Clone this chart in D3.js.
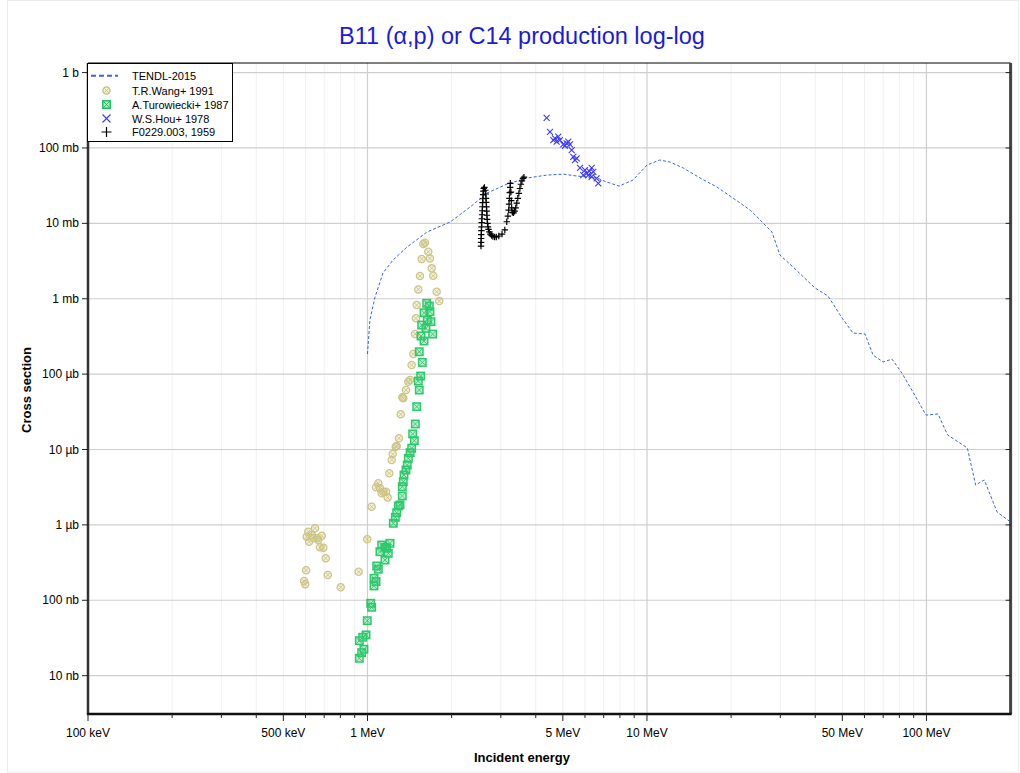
<!DOCTYPE html>
<html><head><meta charset="utf-8">
<script src="https://cdn.jsdelivr.net/npm/d3@7"></script>
<style>body{margin:0;background:#fff;font-family:"Liberation Sans",Arial,sans-serif}</style>
</head><body><svg id="c" width="1020" height="773"></svg>
<script>
// ---- data (energy in MeV, cross section in barns) ----
const tendlE  = [1.0,1.02,1.064,1.136,1.234,1.385,1.633,1.973,2.326,2.677,3.155,3.72,4.39,5.01,5.62,6.62,7.19,7.94,8.91,10.0,11.1,12.1,13.5,15.5,17.8,20.3,23.4,25.4,27.1,28.0,29.9,33.3,39.9,44.4,49.9,54.6,60.3,64.4,69.9,75.3,81.7,89.5,99.6,110,119,140,150,161,179,200];
const tendlXS = [1.85e-4,5.22e-4,1.05e-3,2.19e-3,3.26e-3,4.85e-3,7.67e-3,1.04e-2,1.64e-2,2.52e-2,3.32e-2,3.99e-2,4.37e-2,4.50e-2,4.24e-2,3.99e-2,3.53e-2,3.12e-2,3.75e-2,5.93e-2,6.92e-2,6.50e-2,5.41e-2,3.99e-2,3.03e-2,2.17e-2,1.50e-2,1.11e-2,8.66e-3,7.67e-3,3.80e-3,2.64e-3,1.39e-3,1.09e-3,5.54e-4,3.51e-4,3.40e-4,1.79e-4,1.45e-4,1.58e-4,1.03e-4,5.78e-5,2.86e-5,2.96e-5,1.56e-5,1.05e-5,3.38e-6,3.94e-6,1.48e-6,1.09e-6];

const wangE  = [0.593,0.599,0.603,0.606,0.614,0.618,0.632,0.640,0.649,0.661,0.667,0.676,0.686,0.695,0.709,0.721,0.802,0.930,0.998,1.035,1.073,1.093,1.108,1.124,1.139,1.165,1.181,1.197,1.221,1.231,1.262,1.272,1.296,1.315,1.332,1.343,1.373,1.400,1.420,1.439,1.459,1.479,1.491,1.500,1.520,1.541,1.563,1.584,1.606,1.650,1.673,1.697,1.719,1.768,1.806];
const wangXS = [1.80e-7,1.63e-7,2.50e-7,6.98e-7,8.13e-7,5.99e-7,7.35e-7,6.65e-7,9.01e-7,6.65e-7,6.31e-7,5.05e-7,7.19e-7,4.99e-7,3.61e-7,2.17e-7,1.49e-7,2.39e-7,6.44e-7,1.74e-6,3.15e-6,3.56e-6,3.06e-6,2.62e-6,2.75e-6,2.75e-6,2.30e-6,4.84e-6,7.26e-6,8.72e-6,1.09e-5,1.11e-5,1.41e-5,2.93e-5,4.92e-5,4.77e-5,6.15e-5,7.93e-5,8.35e-5,1.32e-4,1.85e-4,3.40e-4,5.50e-4,8.24e-4,1.33e-3,2.00e-3,3.36e-3,5.31e-3,5.53e-3,4.20e-3,3.43e-3,2.53e-3,2.02e-3,1.24e-3,9.31e-4];

const turoE  = [0.935,0.935,0.953,0.961,0.971,0.988,0.998,1.027,1.035,1.055,1.073,1.055,1.079,1.093,1.124,1.155,1.204,1.108,1.187,1.155,1.171,1.237,1.258,1.272,1.289,1.307,1.332,1.332,1.343,1.351,1.373,1.388,1.400,1.420,1.439,1.471,1.451,1.483,1.500,1.532,1.520,1.550,1.571,1.532,1.593,1.554,1.711,1.619,1.563,1.687,1.637,1.593,1.673,1.664,1.629];
const turoXS = [2.91e-8,1.70e-8,2.02e-8,3.23e-8,2.24e-8,3.47e-8,5.36e-8,9.12e-8,8.07e-8,1.96e-7,1.77e-7,1.55e-7,2.85e-7,2.58e-7,5.41e-7,5.05e-7,5.70e-7,4.41e-7,4.20e-7,3.42e-7,4.90e-7,1.05e-6,1.26e-6,1.45e-6,1.78e-6,1.84e-6,2.42e-6,3.21e-6,3.74e-6,4.59e-6,5.35e-6,6.23e-6,7.64e-6,9.07e-6,1.04e-5,1.31e-5,1.61e-5,2.18e-5,3.70e-5,6.15e-5,8.10e-5,9.43e-5,1.43e-4,1.98e-4,2.75e-4,3.20e-4,3.40e-4,4.05e-4,4.48e-4,4.96e-4,5.22e-4,6.52e-4,6.73e-4,8.00e-4,8.69e-4];

const houE  = [4.376,4.498,4.622,4.686,4.815,4.883,4.752,5.017,5.160,5.229,5.089,5.303,5.378,5.449,5.526,5.604,5.759,5.917,6.001,6.086,6.166,6.217,6.340,6.425,6.340,6.602,6.695];
const houXS = [0.2514,0.164,0.127,0.134,0.141,0.127,0.121,0.1116,0.115,0.121,0.107,0.1116,0.0938,0.0764,0.0691,0.0728,0.0546,0.0437,0.0509,0.0461,0.0437,0.0494,0.0546,0.0483,0.0415,0.0395,0.0339];

const fE  = [2.547,2.549,2.551,2.553,2.556,2.559,2.562,2.566,2.570,2.574,2.578,2.582,2.587,2.592,2.598,2.605,2.620,2.640,2.650,2.655,2.660,2.665,2.670,2.675,2.680,2.688,2.698,2.710,2.730,2.750,2.780,2.810,2.850,2.890,2.950,3.030,3.100,3.150,3.180,3.200,3.210,3.220,3.230,3.240,3.245,3.260,3.270,3.280,3.300,3.330,3.360,3.390,3.420,3.450,3.480,3.510,3.540,3.570,3.600,3.630];
const fXS = [0.0050,0.0056,0.0063,0.0071,0.0080,0.0090,0.0102,0.0115,0.0130,0.0147,0.0166,0.0188,0.0212,0.0240,0.0268,0.0290,0.0300,0.0275,0.0245,0.0215,0.0190,0.0165,0.0145,0.0128,0.0113,0.0100,0.0090,0.0083,0.0077,0.0072,0.0069,0.0067,0.0066,0.0066,0.0068,0.0072,0.0082,0.0105,0.0125,0.0150,0.0180,0.0215,0.0255,0.0300,0.0340,0.0260,0.0200,0.0160,0.0140,0.0138,0.0145,0.0160,0.0185,0.0215,0.0250,0.0290,0.0330,0.0365,0.0395,0.0410];

const xTickVals   = [0.1,0.5,1,5,10,50,100];
const xTickLabels = ["100 keV","500 keV","1 MeV","5 MeV","10 MeV","50 MeV","100 MeV"];
const yTickVals   = [1,0.1,0.01,1e-3,1e-4,1e-5,1e-6,1e-7,1e-8];
const yTickLabels = ["1 b","100 mb","10 mb","1 mb","100 µb","10 µb","1 µb","100 nb","10 nb"];
const legendNames = ["TENDL-2015","T.R.Wang+ 1991","A.Turowiecki+ 1987","W.S.Hou+ 1978","F0229.003, 1959"];

// ---- layout ----
const L=88, R=1010.6, T=63, B=714;
const svg=d3.select("#c");
const x=d3.scaleLog().domain([0.1,200]).range([L,R]);
const y=d3.scaleLog().domain([3.1e-9,1.34]).range([B,T]);
const font='"Liberation Sans",Arial,sans-serif';

// outer faint frame
svg.append("rect").attr("x",7.5).attr("y",0.5).attr("width",1011).attr("height",771.5)
  .attr("fill","none").attr("stroke","#ececec");

// title
svg.append("text").attr("x",522).attr("y",44).attr("text-anchor","middle")
  .attr("font-family",font).attr("font-size",23.5).attr("fill","#1a1adc")
  .text("B11 (α,p) or C14 production log-log");

// grid
const minorX=[];
for(let d=0.1; d<200; d*=10) for(let k=2;k<=9;k++){const v=d*k; if(v<200) minorX.push(v);}
const majorX=[1,10,100];
svg.append("g").selectAll("line").data(minorX).join("line")
  .attr("x1",d=>x(d)).attr("x2",d=>x(d)).attr("y1",T).attr("y2",B)
  .attr("stroke","#f0f0f0").attr("stroke-width",1);
svg.append("g").selectAll("line").data(majorX).join("line")
  .attr("x1",d=>x(d)).attr("x2",d=>x(d)).attr("y1",T).attr("y2",B)
  .attr("stroke","#cfcfcf").attr("stroke-width",1.2);
svg.append("g").selectAll("line").data(yTickVals).join("line")
  .attr("x1",L).attr("x2",R).attr("y1",d=>y(d)).attr("y2",d=>y(d))
  .attr("stroke","#cfcfcf").attr("stroke-width",1.2);

// clip
svg.append("clipPath").attr("id","clip").append("rect").attr("x",L).attr("y",T).attr("width",R-L).attr("height",B-T);
const plot=svg.append("g").attr("clip-path","url(#clip)");

// TENDL
const line=d3.line().x(d=>x(d[0])).y(d=>y(d[1]));
plot.append("path").datum(d3.zip(tendlE,tendlXS)).attr("d",line)
  .attr("fill","none").attr("stroke","#3a64e8").attr("stroke-width",1).attr("stroke-dasharray","3,2");

// markers
const wangCol="#c8bf78", turoCol="#18c45c", houCol="#3a3aff";
function circX(g,cx,cy,col){
  g.append("circle").attr("cx",cx).attr("cy",cy).attr("r",3.6).attr("fill",col).attr("fill-opacity",0.25).attr("stroke",col).attr("stroke-width",1.3);
  const r=2.3;
  g.append("path").attr("d",`M${cx-r},${cy-r}L${cx+r},${cy+r}M${cx-r},${cy+r}L${cx+r},${cy-r}`).attr("stroke",col).attr("stroke-width",0.9);
}
function sqX(g,cx,cy,col){
  const s=3.7;
  g.append("rect").attr("x",cx-s).attr("y",cy-s).attr("width",2*s).attr("height",2*s).attr("fill",col).attr("fill-opacity",0.3).attr("stroke",col).attr("stroke-width",1.5);
  g.append("path").attr("d",`M${cx-s},${cy-s}L${cx+s},${cy+s}M${cx-s},${cy+s}L${cx+s},${cy-s}`).attr("stroke",col).attr("stroke-width",0.9);
}
function xMark(g,cx,cy,col,s){
  g.append("path").attr("d",`M${cx-s},${cy-s}L${cx+s},${cy+s}M${cx-s},${cy+s}L${cx+s},${cy-s}`).attr("stroke",col).attr("stroke-width",1.1);
}
function plus(g,cx,cy,col,s){
  g.append("path").attr("d",`M${cx-s},${cy}L${cx+s},${cy}M${cx},${cy-s}L${cx},${cy+s}`).attr("stroke",col).attr("stroke-width",1.2);
}
const gW=plot.append("g").attr("opacity",0.9);
d3.zip(wangE,wangXS).forEach(d=>circX(gW,x(d[0]),y(d[1]),wangCol));
const gT=plot.append("g").attr("opacity",0.9);
d3.zip(turoE,turoXS).forEach(d=>sqX(gT,x(d[0]),y(d[1]),turoCol));
const gH=plot.append("g");
d3.zip(houE,houXS).forEach(d=>xMark(gH,x(d[0]),y(d[1]),houCol,3));
const gF=plot.append("g");
d3.zip(fE,fXS).forEach(d=>plus(gF,x(d[0]),y(d[1]),"#000",3.2));

// axes frame
svg.append("line").attr("x1",L).attr("x2",R).attr("y1",T).attr("y2",T).attr("stroke","#000").attr("stroke-width",1);
svg.append("line").attr("x1",R).attr("x2",R).attr("y1",T).attr("y2",B).attr("stroke","#444").attr("stroke-width",3);
svg.append("line").attr("x1",L).attr("x2",L).attr("y1",T).attr("y2",B+1).attr("stroke","#333").attr("stroke-width",2.5);
svg.append("line").attr("x1",L-1).attr("x2",R+1).attr("y1",B).attr("y2",B).attr("stroke","#111").attr("stroke-width",2.5);

// x axis ticks
const allX=[...minorX.filter(v=>v>0.1), ...majorX];
svg.append("g").selectAll("line").data(allX).join("line")
  .attr("x1",d=>x(d)).attr("x2",d=>x(d)).attr("y1",B).attr("y2",d=>xTickVals.includes(d)?B+7:B+4)
  .attr("stroke","#222").attr("stroke-width",1);
svg.append("line").attr("x1",L).attr("x2",L).attr("y1",B).attr("y2",B+7).attr("stroke","#222");
svg.append("g").selectAll("text").data(xTickVals).join("text")
  .attr("x",d=>x(d)).attr("y",B+23).attr("text-anchor","middle")
  .attr("font-family",font).attr("font-size",12).attr("fill","#000")
  .text((d,i)=>xTickLabels[i]);

// y axis ticks
svg.append("g").selectAll("line").data(yTickVals).join("line")
  .attr("x1",L-6).attr("x2",L).attr("y1",d=>y(d)).attr("y2",d=>y(d)).attr("stroke","#222");
svg.append("g").selectAll("line").data(yTickVals).join("line")
  .attr("x1",R-5).attr("x2",R).attr("y1",d=>y(d)).attr("y2",d=>y(d)).attr("stroke","#222");
svg.append("g").selectAll("text").data(yTickVals).join("text")
  .attr("x",L-9).attr("y",d=>y(d)+4).attr("text-anchor","end")
  .attr("font-family",font).attr("font-size",12).attr("fill","#000")
  .text((d,i)=>yTickLabels[i]);

// axis titles
svg.append("text").attr("x",522).attr("y",762).attr("text-anchor","middle")
  .attr("font-family",font).attr("font-size",13).attr("font-weight","bold").text("Incident energy");
svg.append("text").attr("transform","translate(31,390) rotate(-90)").attr("text-anchor","middle")
  .attr("font-family",font).attr("font-size",13).attr("font-weight","bold").text("Cross section");

// legend
const lg=svg.append("g");
lg.append("rect").attr("x",87.5).attr("y",63.5).attr("width",145).attr("height",78)
  .attr("fill","#fff").attr("stroke","#000").attr("stroke-width",1);
const rowY=[75.7,90.5,104.5,118.5,132];
lg.append("line").attr("x1",91).attr("x2",118).attr("y1",rowY[0]).attr("y2",rowY[0])
  .attr("stroke","#3a64e8").attr("stroke-width",2).attr("stroke-dasharray","5,3");
circX(lg,106.5,rowY[1],wangCol);
sqX(lg,106.5,rowY[2],turoCol);
xMark(lg,106.5,rowY[3],houCol,4);
plus(lg,106.5,rowY[4],"#000",5);
lg.selectAll("text").data(legendNames).join("text")
  .attr("x",132).attr("y",(d,i)=>rowY[i]+4).attr("font-family",font).attr("font-size",11).attr("fill","#000")
  .text(d=>d);
</script></body></html>
